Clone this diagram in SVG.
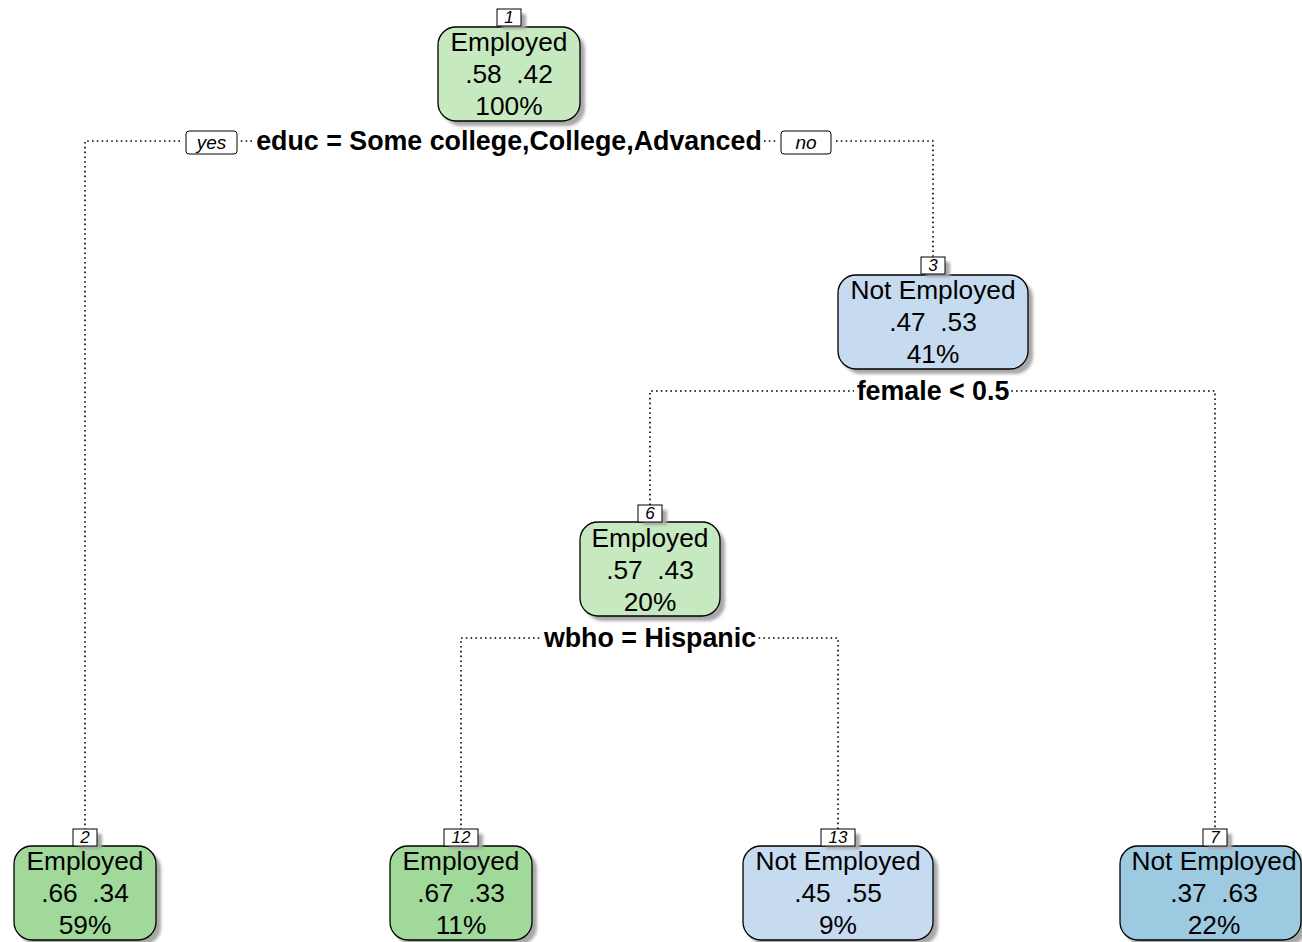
<svg xmlns="http://www.w3.org/2000/svg" width="1302" height="942" viewBox="0 0 1302 942">
<defs>
<filter id="blur" x="-10%" y="-10%" width="120%" height="120%"><feGaussianBlur stdDeviation="1.5"/></filter>
<style>
.bg{fill:#ffffff}
.shadow{fill:#a8a8a8;filter:url(#blur)}
.box{stroke:#000;stroke-width:1.3}
.g1{fill:#c7e9c0}
.g2{fill:#a1d99b}
.b1{fill:#c6dbef}
.b2{fill:#9ecae1}
.t{font-family:"Liberation Sans",Arial,sans-serif;font-size:26.3px;fill:#000;text-anchor:middle;white-space:pre}
.split{font-family:"Liberation Sans",Arial,sans-serif;font-size:26.8px;font-weight:bold;fill:#000;text-anchor:middle}
.num{font-family:"Liberation Sans",Arial,sans-serif;font-size:17px;font-style:italic;fill:#000;text-anchor:middle}
.nbox{fill:#fff;stroke:#000;stroke-width:1}
.yn{font-family:"Liberation Sans",Arial,sans-serif;font-size:19px;font-style:italic;fill:#000;text-anchor:middle}
.dot{fill:none;stroke:#000;stroke-width:1.6;stroke-dasharray:1.6 3.2}
</style>
</defs>
<rect class="bg" width="1302" height="942"/>

<g id="connectors">
<path class="dot" d="M85,830 V141 H933 V258"/>
<path class="dot" d="M650,505 V391 H1215 V830"/>
<path class="dot" d="M461,830 V638 H838 V830"/>
<rect class="bg" x="183" y="129" width="57" height="26"/>
<rect class="bg" x="253" y="126" width="511" height="30"/>
<rect class="bg" x="778" y="129" width="56" height="26"/>
<rect class="bg" x="854" y="376" width="157" height="30"/>
<rect class="bg" x="542" y="623" width="216" height="30"/>
<rect class="nbox" x="186" y="131" width="51" height="23" rx="3"/>
<text class="yn" x="211.5" y="149">yes</text>
<rect class="nbox" x="781" y="131" width="50" height="23" rx="3"/>
<text class="yn" x="806" y="149">no</text>
<text class="split" x="509" y="150">educ = Some college,College,Advanced</text>
<text class="split" x="933" y="400">female &lt; 0.5</text>
<text class="split" x="650" y="647">wbho = Hispanic</text>
</g>

<g id="node1">
<rect class="shadow" x="443" y="32" width="142" height="94" rx="18"/>
<rect class="box g1" x="438" y="27" width="142" height="94" rx="18"/>
<rect class="shadow" x="502" y="14" width="24" height="15"/>
<rect class="nbox" x="497" y="9" width="24" height="17"/>
<text class="num" x="509" y="23">1</text>
<text class="t" x="509" y="51">Employed</text>
<text class="t" x="509" y="83">.58  .42</text>
<text class="t" x="509" y="115">100%</text>
</g>

<g id="node3">
<rect class="shadow" x="843" y="280" width="190" height="94" rx="18"/>
<rect class="box b1" x="838" y="275" width="190" height="94" rx="18"/>
<rect class="shadow" x="926" y="262" width="24" height="15"/>
<rect class="nbox" x="921" y="257" width="24" height="17"/>
<text class="num" x="933" y="271">3</text>
<text class="t" x="933" y="299">Not Employed</text>
<text class="t" x="933" y="331">.47  .53</text>
<text class="t" x="933" y="363">41%</text>
</g>

<g id="node6">
<rect class="shadow" x="585" y="527" width="140" height="94" rx="18"/>
<rect class="box g1" x="580" y="522" width="140" height="94" rx="18"/>
<rect class="shadow" x="643" y="510" width="24" height="15"/>
<rect class="nbox" x="638" y="505" width="24" height="17"/>
<text class="num" x="650" y="519">6</text>
<text class="t" x="650" y="547">Employed</text>
<text class="t" x="650" y="579">.57  .43</text>
<text class="t" x="650" y="611">20%</text>
</g>

<g id="node2">
<rect class="shadow" x="19" y="851" width="142" height="94" rx="18"/>
<rect class="box g2" x="14" y="846" width="142" height="94" rx="18"/>
<rect class="shadow" x="78" y="834" width="24" height="15"/>
<rect class="nbox" x="73" y="829" width="24" height="17"/>
<text class="num" x="85" y="843">2</text>
<text class="t" x="85" y="870">Employed</text>
<text class="t" x="85" y="902">.66  .34</text>
<text class="t" x="85" y="934">59%</text>
</g>

<g id="node12">
<rect class="shadow" x="395" y="851" width="142" height="94" rx="18"/>
<rect class="box g2" x="390" y="846" width="142" height="94" rx="18"/>
<rect class="shadow" x="449" y="834" width="34" height="15"/>
<rect class="nbox" x="444" y="829" width="34" height="17"/>
<text class="num" x="461" y="843">12</text>
<text class="t" x="461" y="870">Employed</text>
<text class="t" x="461" y="902">.67  .33</text>
<text class="t" x="461" y="934">11%</text>
</g>

<g id="node13">
<rect class="shadow" x="748" y="851" width="190" height="94" rx="18"/>
<rect class="box b1" x="743" y="846" width="190" height="94" rx="18"/>
<rect class="shadow" x="826" y="834" width="34" height="15"/>
<rect class="nbox" x="821" y="829" width="34" height="17"/>
<text class="num" x="838" y="843">13</text>
<text class="t" x="838" y="870">Not Employed</text>
<text class="t" x="838" y="902">.45  .55</text>
<text class="t" x="838" y="934">9%</text>
</g>

<g id="node7">
<rect class="shadow" x="1125" y="851" width="182" height="94" rx="18"/>
<rect class="box b2" x="1120" y="846" width="181" height="94" rx="18"/>
<rect class="shadow" x="1208" y="834" width="24" height="15"/>
<rect class="nbox" x="1203" y="829" width="24" height="17"/>
<text class="num" x="1215" y="843">7</text>
<text class="t" x="1214" y="870">Not Employed</text>
<text class="t" x="1214" y="902">.37  .63</text>
<text class="t" x="1214" y="934">22%</text>
</g>
</svg>
